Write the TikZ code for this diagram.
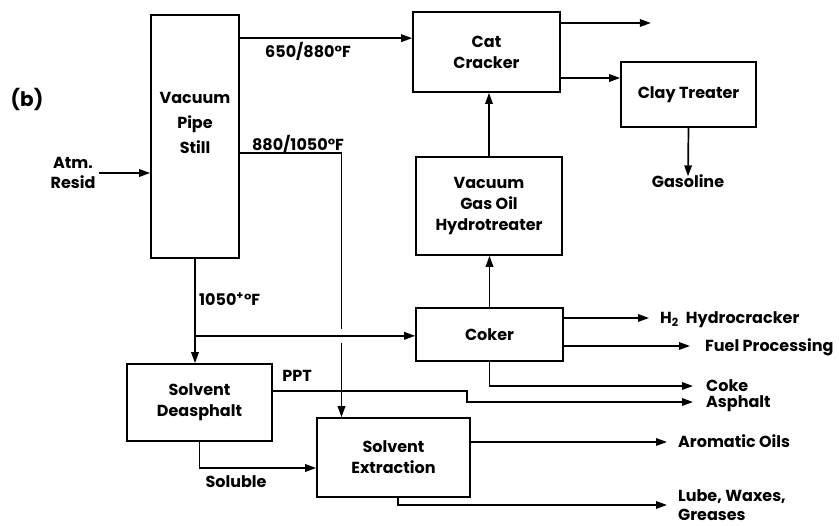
\documentclass[tikz,border=0pt]{standalone}
\usepackage{fontspec}
\setmainfont{Poppins}
\usetikzlibrary{arrows.meta,calc}
\begin{document}
\begin{tikzpicture}[x=1pt,y=-1pt,
  every node/.style={font=\fontsize{16}{21}\selectfont\bfseries},
  box/.style={draw, line width=1.7pt, inner sep=0pt, align=center},
  txt/.style={inner sep=0pt, text height=11pt, text depth=0pt},
  lbl/.style={txt, anchor=west},
  arr/.style={line width=1.7pt, -{Triangle[length=11pt,width=7.5pt]}},
  ln/.style={line width=1.7pt}
]
\useasboundingbox (0,0) rectangle (839,526);

% boxes
\node[box, minimum width=88pt, minimum height=243pt] (vps) at (195,136.5) {};
\node[align=center, font=\fontsize{16}{25}\selectfont\bfseries] (vpst) at (195,123) {Vacuum\\Pipe\\Still};
\node[box, minimum width=147pt, minimum height=80pt] (cat) at (486.5,52) {Cat\\Cracker};
\node[box, minimum width=135pt, minimum height=65pt] (clay) at (688.5,94.5) {Clay Treater};
\node[box, minimum width=146pt, minimum height=98pt] (vgo) at (489,206) {Vacuum\\Gas Oil\\Hydrotreater};
\node[box, minimum width=147pt, minimum height=53pt] (coker) at (489.5,334.5) {Coker};
\node[box, minimum width=145pt, minimum height=77pt] (sd) at (199.5,402.5) {Solvent\\Deasphalt};
\node[box, minimum width=153pt, minimum height=79pt] (sx) at (393.5,457.5) {Solvent\\Extraction};

% labels
\node[font=\fontsize{20}{22}\selectfont\bfseries] (b) at (27,99) {(b)};
\node[align=center, font=\fontsize{16}{19.5}\selectfont\bfseries] (resid) at (73,173) {Atm.\\Resid};
\node[txt] (t650) at (308,52) {650/880°F};
\node[txt] (t880) at (298,145) {880/1050°F};
\node[lbl] (t1050) at (199,300) {1050\textsuperscript{+}°F};
\node[txt] (tppt) at (297,376) {PPT};
\node[txt] (tsol) at (236,482) {Soluble};
\node[txt] (gas) at (688,182) {Gasoline};
\node[lbl] (h2) at (660,318) {H\textsubscript{2}\hspace{0.45em}Hydrocracker};
\node[lbl] (fuel) at (705,346) {Fuel Processing};
\node[lbl] (coke) at (706,386) {Coke};
\node[lbl] (asph) at (706,402) {Asphalt};
\node[lbl] (arom) at (678,442) {Aromatic Oils};
\node[anchor=west, inner sep=0pt, align=left, font=\fontsize{16}{19.5}\selectfont\bfseries] (lube) at (678,505) {Lube, Waxes,\\Greases};

% connectors
\draw[arr] (resid.east) -- (resid.east -| vps.west);
\draw[arr] ([yshift=-24pt]vps.north east) coordinate (p650) -- (p650 -| cat.west);
\coordinate (j1) at ([yshift=-77pt]vps.south);
\coordinate (x880) at ([xshift=-52pt]sx.north);
\coordinate (g1) at ([yshift=7pt]x880 |- j1);
\coordinate (g2) at ([yshift=-7pt]x880 |- j1);
\draw[ln] ([yshift=-139pt]vps.north east) -| (g1);
\draw[arr] (g2) -- (x880);
\draw[arr] (j1) -- (j1 -| coker.west);
\draw[arr] (vps.south) -- (vps.south |- sd.north);
\draw[arr] ([yshift=29pt]cat.east) -- ++(90,0);
\draw[arr] ([yshift=-26pt]cat.east) coordinate (pc2) -- (pc2 -| clay.west);
\draw[arr] (clay.south) -- (gas.north);
\draw[arr] (vgo.north) -- (vgo.north |- cat.south);
\draw[arr] (coker.north) -- (coker.north |- vgo.south);
\draw[arr, shorten >=11pt] (h2.west -| coker.east) -- (h2.west);
\draw[arr, shorten >=15pt] (fuel.west -| coker.east) -- (fuel.west);
\draw[arr, shorten >=13pt] (coker.south) |- (coke.west);
\coordinate (bp) at (467,391);
\draw[arr, shorten >=13pt] (bp -| sd.east) -- (bp) |- (asph.west);
\draw[arr] (sd.south) |- ([yshift=-10.5pt]sx.west);
\draw[arr, shorten >=11pt] (arom.west -| sx.east) -- (arom.west);
\draw[arr, shorten >=11pt] ([xshift=4.5pt]sx.south) |- (lube.west);
\end{tikzpicture}
\end{document}
